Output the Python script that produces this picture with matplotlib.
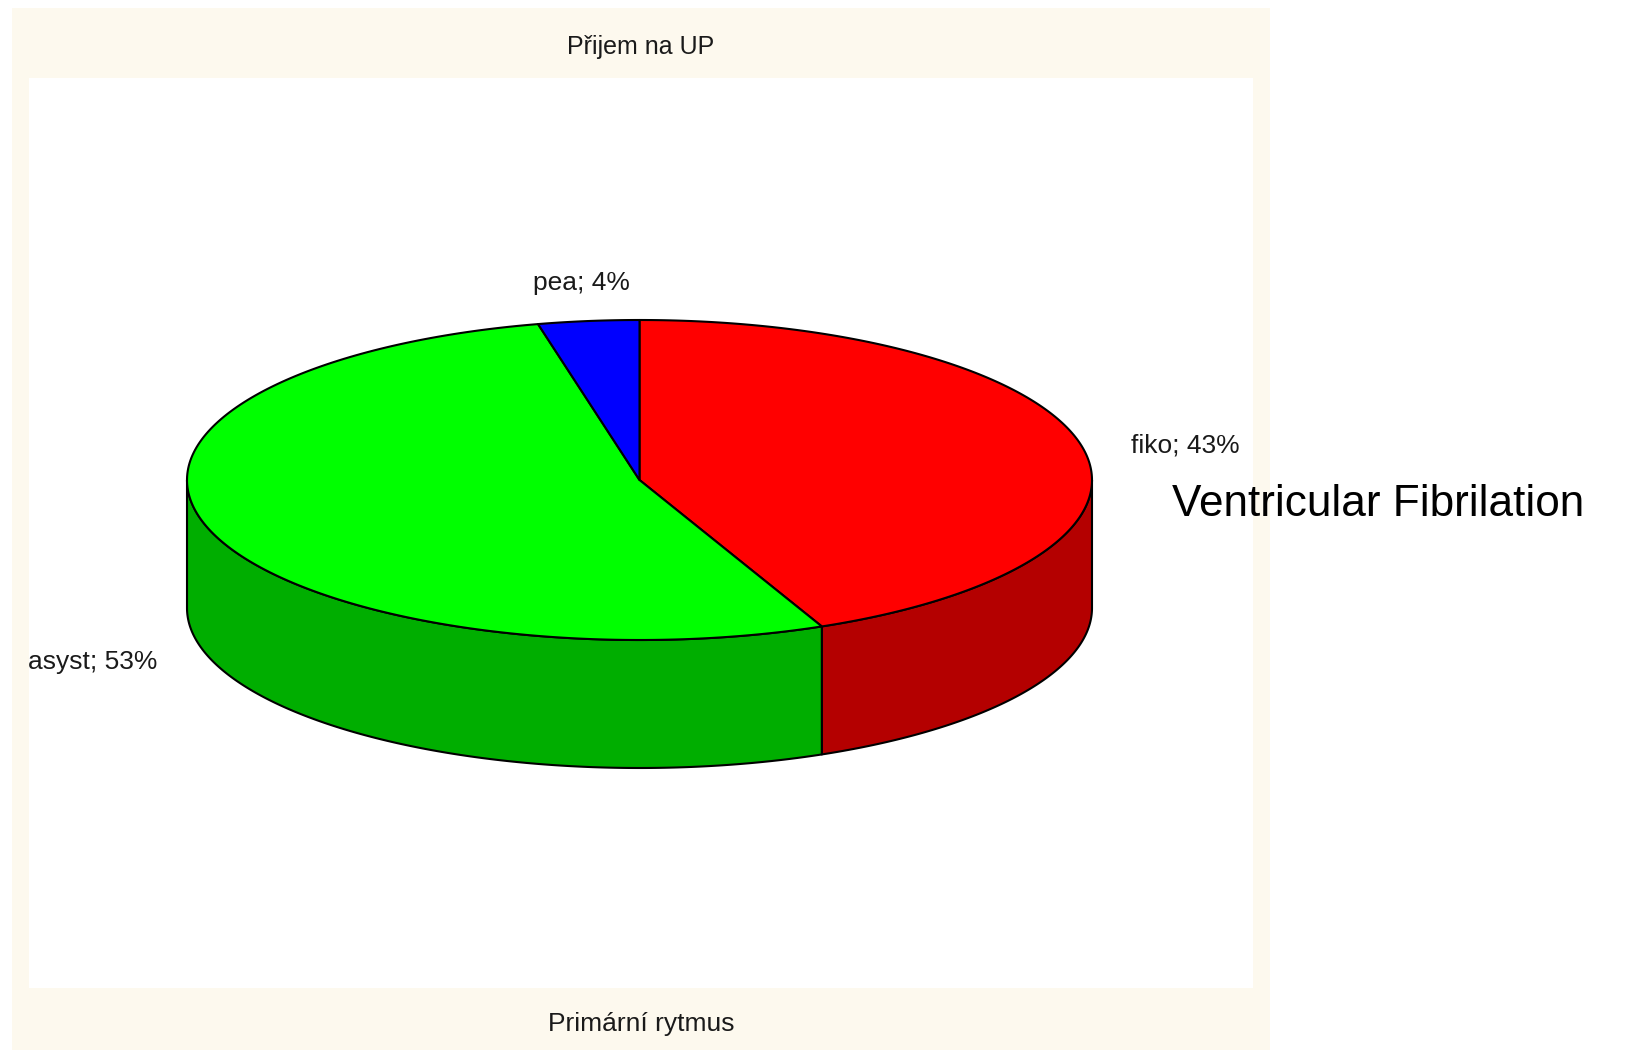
import numpy as np
import matplotlib
matplotlib.use('Agg')
import matplotlib.pyplot as plt
from matplotlib.patches import Polygon, Rectangle

# ---- data ----
title = "Přijem na UP"
xlabel = "Primární rytmus"
categories = ["fiko", "asyst", "pea"]
shares = [43.4, 53.0, 3.6]          # slice sizes (labels show rounded %)
annotation = "Ventricular Fibrilation"

top_colors = ["#FF0000", "#00FF00", "#0000FF"]
side_colors = ["#B40000", "#00AE00", "#0000A0"]

W, H = 1630, 1050
fig = plt.figure(figsize=(16.3, 10.5), dpi=100)
fig.patch.set_facecolor("white")
ax = fig.add_axes([0, 0, 1, 1])
ax.set_xlim(0, W)
ax.set_ylim(H, 0)
ax.axis("off")

# panel backgrounds
ax.add_patch(Rectangle((12, 8), 1258, 1050, facecolor="#FDF9EE", edgecolor="none", zorder=0))
ax.add_patch(Rectangle((29, 78), 1224, 910, facecolor="#FFFFFF", edgecolor="none", zorder=0.5))

cx, cy, rx, ry, depth = 639.5, 480, 452.5, 160, 128


def arc(a0, a1, dy=0, n=200):
    t = np.radians(np.linspace(a0, a1, n))
    return np.column_stack([cx + rx * np.cos(t), cy - ry * np.sin(t) + dy])


fracs = np.array(shares, dtype=float) / sum(shares)
starts = 90 - 360 * np.concatenate([[0], np.cumsum(fracs)[:-1]])
ends = starts - 360 * fracs

# side walls (front half only)
for s, e, c in zip(starts, ends, side_colors):
    for k in range(-2, 2):
        lo = max(e, -180 + 360 * k)
        hi = min(s, 360 * k)
        if lo < hi:
            top = arc(hi, lo)
            bot = arc(lo, hi, dy=depth)
            poly = np.vstack([top, bot])
            ax.add_patch(Polygon(poly, closed=True, facecolor=c, edgecolor="black",
                                 linewidth=1.5, joinstyle="round", zorder=2))

# top faces
for s, e, c in zip(starts, ends, top_colors):
    pts = np.vstack([[cx, cy], arc(s, e)])
    ax.add_patch(Polygon(pts, closed=True, facecolor=c, edgecolor="black",
                         linewidth=1.5, joinstyle="round", zorder=3))

font = "Liberation Sans"
label_pos = {"fiko": (1185, 445), "asyst": (93, 662), "pea": (581, 283)}
for cat, f in zip(categories, fracs):
    x, y = label_pos[cat]
    ax.text(x, y, f"{cat}; {round(f * 100):.0f}%", ha="center", va="center", fontsize=19,
            family=font, color="#1a1a1a", zorder=5)

ax.text(641, 47, title, ha="center", va="center", fontsize=18, family=font, color="#1a1a1a")
ax.text(641, 1024, xlabel, ha="center", va="center", fontsize=19, family=font, color="#1a1a1a")
ax.text(1378, 504, annotation, ha="center", va="center", fontsize=31.8, family=font, color="black")

fig.savefig("out.png", dpi=100, facecolor="white")
